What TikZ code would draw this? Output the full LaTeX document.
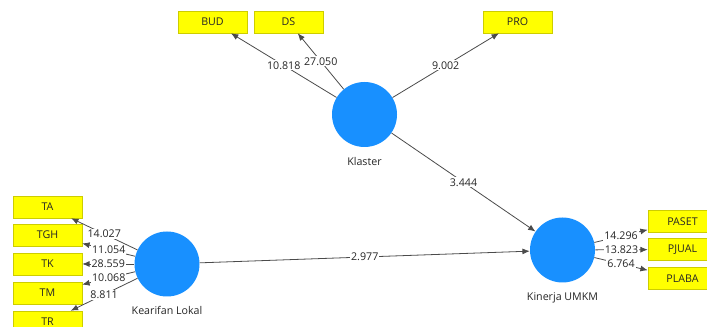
\documentclass[tikz,border=0pt]{standalone}
\usepackage{fontspec}
\setmainfont{Open Sans}
\usetikzlibrary{arrows.meta}
\definecolor{lvblue}{RGB}{24,144,255}
\definecolor{indyellow}{RGB}{255,255,0}
\definecolor{indborder}{RGB}{205,205,0}
\definecolor{pathgray}{RGB}{75,75,75}
\tikzset{latent/.style={circle, fill=lvblue, inner sep=0pt, minimum size=48.75pt},
    lvname/.style={font=\fontsize{8}{9}\selectfont, text=black!85, yshift=-4pt},
    indicator/.style={draw=indborder, fill=indyellow, minimum width=51.75pt,
        minimum height=16.5pt, inner sep=0pt, text=black!85, font=\fontsize{8}{9}\selectfont},
    path/.style={draw=pathgray, line width=0.6pt, -{Latex[length=5.5pt,width=4.5pt]}},
    coef/.style={midway, fill=white, inner sep=0.8pt, text=black!85,
        font=\fontsize{8}{9}\selectfont}
}

\begin{document}
\begin{tikzpicture}[x=0.75pt, y=-0.75pt]
            \clip (0,0) rectangle (707,327);
            \fill[white] (0,0) rectangle (707,327);
            % latent variables
            \node[latent, label={[lvname]below:Klaster}] (klaster) at (364.5, 114.5) {};
            \node[latent, label={[lvname]below:Kearifan Lokal}] (kearifan) at (167, 264) {};
            \node[latent, label={[lvname]below:Kinerja UMKM}] (kinerja) at (562.5, 250) {};
            % indicators
            \node[indicator] (bud) at (212.5, 22) {BUD};
            \node[indicator] (ds) at (288.5, 22) {DS};
            \node[indicator] (pro) at (517.5, 22) {PRO};
            \node[indicator] (ta) at (47.5, 207) {TA};
            \node[indicator] (tgh) at (47.5, 235) {TGH};
            \node[indicator] (tk) at (47.5, 264) {TK};
            \node[indicator] (tm) at (47.5, 293) {TM};
            \node[indicator] (tr) at (47.5, 322) {TR};
            \node[indicator] (paset) at (682.5, 221.5) {PASET};
            \node[indicator] (pjual) at (682.5, 249.5) {PJUAL};
            \node[indicator] (plaba) at (682.5, 278.5) {PLABA};
            % outer loadings
            \draw[path] (klaster) -- (bud) node[coef] {10.818};
            \draw[path] (klaster) -- (ds) node[coef] {27.050};
            \draw[path] (klaster) -- (pro) node[coef] {9.002};
            \draw[path] (kearifan) -- (ta) node[coef] {14.027};
            \draw[path] (kearifan) -- (tgh) node[coef] {11.054};
            \draw[path] (kearifan) -- (tk) node[coef] {28.559};
            \draw[path] (kearifan) -- (tm) node[coef] {10.068};
            \draw[path] (kearifan) -- (tr) node[coef] {8.811};
            \draw[path] (kinerja) -- (paset) node[coef] {14.296};
            \draw[path] (kinerja) -- (pjual) node[coef] {13.823};
            \draw[path] (kinerja) -- (plaba) node[coef] {6.764};
            % inner model
            \draw[path] (klaster) -- (kinerja) node[coef] {3.444};
            \draw[path] (kearifan) -- (kinerja) node[coef] {2.977};
        \end{tikzpicture}
\end{document}
